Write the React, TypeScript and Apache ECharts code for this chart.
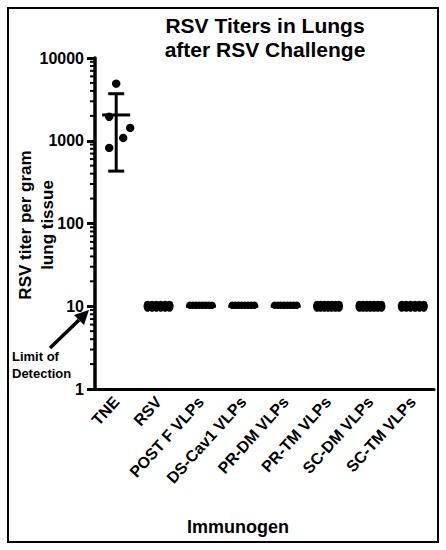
import React, { useEffect, useRef } from "react";
import * as echarts from "echarts";

const CATEGORIES = [
  "TNE",
  "RSV",
  "POST F VLPs",
  "DS-Cav1 VLPs",
  "PR-DM VLPs",
  "PR-TM VLPs",
  "SC-DM VLPs",
  "SC-TM VLPs",
];

// individual titers per group
const TNE_TITERS = [4900, 1950, 1430, 1080, 820];
const RSV_TITERS = [10, 10, 10, 10, 10, 10, 10, 10, 10, 10, 10, 10];
const POSTF_TITERS = [10, 10, 10, 10, 10, 10, 10, 10];
const DSCAV1_TITERS = [10, 10, 10, 10, 10, 10, 10, 10];
const PRDM_TITERS = [10, 10, 10, 10, 10, 10, 10, 10];
const PRTM_TITERS = [10, 10, 10, 10, 10, 10, 10, 10, 10, 10, 10, 10, 10, 10];
const SCDM_TITERS = [10, 10, 10, 10, 10, 10, 10, 10, 10, 10, 10, 10, 10, 10];
const SCTM_TITERS = [10, 10, 10, 10, 10, 10, 10, 10, 10, 10, 10, 10];

const GROUP_TITERS = [
  TNE_TITERS,
  RSV_TITERS,
  POSTF_TITERS,
  DSCAV1_TITERS,
  PRDM_TITERS,
  PRTM_TITERS,
  SCDM_TITERS,
  SCTM_TITERS,
];

// mean and mean ± SD per group
const GROUP_MEAN = [2050, 10, 10, 10, 10, 10, 10, 10];
const GROUP_SD_LOW = [430, 10, 10, 10, 10, 10, 10, 10];
const GROUP_SD_HIGH = [3700, 10, 10, 10, 10, 10, 10, 10];

const Y_MIN = 1;
const Y_MAX = 10000;

const FONT = "'Liberation Sans', Arial, sans-serif";

export default function App() {
  const ref = useRef<HTMLDivElement>(null);

  useEffect(() => {
    document.body.style.margin = "0";
    if (!ref.current) return;
    const chart = echarts.init(ref.current, null, { renderer: "svg" });

    const pointData: number[][] = [];
    GROUP_TITERS.forEach((arr, gi) => {
      arr.forEach((v, j) => pointData.push([gi, v, j, arr.length]));
    });

    const barData = GROUP_MEAN.map((m, i) => [i, m, GROUP_SD_LOW[i], GROUP_SD_HIGH[i]]);

    const minorTicks: number[][] = [];
    for (let k = 0; k < 4; k++) {
      for (let m = 2; m <= 9; m++) minorTicks.push([0, m * Math.pow(10, k)]);
    }

    const TNE_JITTER = [0, -7, 14, 7, -7];

    const option: any = {
      animation: false,
      backgroundColor: "#fff",
      grid: { left: 95, right: 12, top: 58, bottom: 161 },
      xAxis: {
        type: "category",
        data: CATEGORIES,
        boundaryGap: true,
        axisLine: { lineStyle: { color: "#000", width: 3 } },
        axisTick: { alignWithLabel: true, length: 7, lineStyle: { color: "#000", width: 3 } },
        axisLabel: {
          interval: 0,
          rotate: 48,
          margin: 10,
          color: "#000",
          fontSize: 16,
          fontWeight: "bold",
          fontFamily: FONT,
        },
        splitLine: { show: false },
      },
      yAxis: {
        type: "log",
        logBase: 10,
        min: Y_MIN,
        max: Y_MAX,
        axisLine: { show: true, lineStyle: { color: "#000", width: 3.5 } },
        axisTick: { show: true, length: 8, lineStyle: { color: "#000", width: 3 } },
        axisLabel: {
          margin: 11,
          color: "#000",
          fontSize: 16,
          fontWeight: "bold",
          fontFamily: FONT,
          formatter: (v: number) => String(Math.round(v)),
        },
        splitLine: { show: false },
      },
      series: [
        {
          type: "custom",
          name: "minor",
          clip: false,
          silent: true,
          data: minorTicks,
          renderItem: (params: any, api: any) => {
            const p = api.coord([0, api.value(1)]);
            const x0 = params.coordSys.x;
            return {
              type: "line",
              shape: { x1: x0 - 5, y1: p[1], x2: x0, y2: p[1] },
              style: { stroke: "#000", lineWidth: 2 },
            };
          },
        },
        {
          type: "custom",
          name: "errorbars",
          clip: false,
          data: barData,
          renderItem: (params: any, api: any) => {
            const cat = api.value(0);
            const mean = api.coord([cat, api.value(1)]);
            const lo = api.coord([cat, api.value(2)]);
            const hi = api.coord([cat, api.value(3)]);
            const cx = mean[0];
            const st = { stroke: "#000", lineWidth: 3 };
            const half = cat === 0 ? 14 : 15;
            const children: any[] = [
              { type: "line", shape: { x1: cx - half, y1: mean[1], x2: cx + half, y2: mean[1] }, style: st },
            ];
            if (Math.abs(lo[1] - hi[1]) > 1) {
              children.push(
                { type: "line", shape: { x1: cx, y1: lo[1], x2: cx, y2: hi[1] }, style: st },
                { type: "line", shape: { x1: cx - 8, y1: lo[1], x2: cx + 8, y2: lo[1] }, style: st },
                { type: "line", shape: { x1: cx - 8, y1: hi[1], x2: cx + 8, y2: hi[1] }, style: st }
              );
            }
            return { type: "group", children };
          },
        },
        {
          type: "custom",
          name: "points",
          clip: false,
          data: pointData,
          renderItem: (params: any, api: any) => {
            const cat = api.value(0);
            const j = api.value(2);
            const n = api.value(3);
            const p = api.coord([cat, api.value(1)]);
            let dx = 0;
            let dy = 0;
            if (cat === 0) {
              dx = TNE_JITTER[j] || 0;
            } else {
              const rows = n >= 10 ? 2 : 1;
              const perRow = Math.ceil(n / rows);
              const span = 22;
              const col = j % perRow;
              const row = Math.floor(j / perRow);
              dx = -span / 2 + (col * span) / (perRow - 1);
              dy = rows === 2 ? (row === 0 ? -1.8 : 1.8) : -1;
            }
            return {
              type: "circle",
              shape: { cx: p[0] + dx, cy: p[1] + dy, r: cat === 0 ? 4.2 : 3.7 },
              style: { fill: "#000" },
            };
          },
        },
      ],
      graphic: [
        {
          type: "rect",
          shape: { x: 8, y: 8, width: 430, height: 534 },
          style: { fill: "none", stroke: "#000", lineWidth: 2 },
          silent: true,
        },
        {
          type: "text",
          x: 265,
          y: 25,
          style: {
            text: "RSV Titers in Lungs",
            font: `bold 21px ${FONT}`,
            fill: "#000",
            textAlign: "center",
            textVerticalAlign: "middle",
          },
        },
        {
          type: "text",
          x: 265,
          y: 49,
          style: {
            text: "after RSV Challenge",
            font: `bold 21px ${FONT}`,
            fill: "#000",
            textAlign: "center",
            textVerticalAlign: "middle",
          },
        },
        {
          type: "text",
          x: 25,
          y: 225,
          rotation: Math.PI / 2,
          style: {
            text: "RSV titer per gram",
            font: `bold 17px ${FONT}`,
            fill: "#000",
            textAlign: "center",
            textVerticalAlign: "middle",
          },
        },
        {
          type: "text",
          x: 47,
          y: 225,
          rotation: Math.PI / 2,
          style: {
            text: "lung tissue",
            font: `bold 17px ${FONT}`,
            fill: "#000",
            textAlign: "center",
            textVerticalAlign: "middle",
          },
        },
        {
          type: "text",
          x: 238,
          y: 527,
          style: {
            text: "Immunogen",
            font: `bold 18px ${FONT}`,
            fill: "#000",
            textAlign: "center",
            textVerticalAlign: "middle",
          },
        },
        {
          type: "text",
          x: 12,
          y: 356,
          style: {
            text: "Limit of",
            font: `bold 13px ${FONT}`,
            fill: "#000",
            textAlign: "left",
            textVerticalAlign: "middle",
          },
        },
        {
          type: "text",
          x: 12,
          y: 373,
          style: {
            text: "Detection",
            font: `bold 13px ${FONT}`,
            fill: "#000",
            textAlign: "left",
            textVerticalAlign: "middle",
          },
        },
        {
          type: "line",
          shape: { x1: 50, y1: 348, x2: 79, y2: 320 },
          style: { stroke: "#000", lineWidth: 3.5 },
        },
        {
          type: "polygon",
          shape: {
            points: [
              [89, 310],
              [84, 325],
              [74, 315],
            ],
          },
          style: { fill: "#000" },
        },
      ],
    };

    chart.setOption(option);
    return () => chart.dispose();
  }, []);

  return <div ref={ref} style={{ width: 446, height: 550 }} />;
}
